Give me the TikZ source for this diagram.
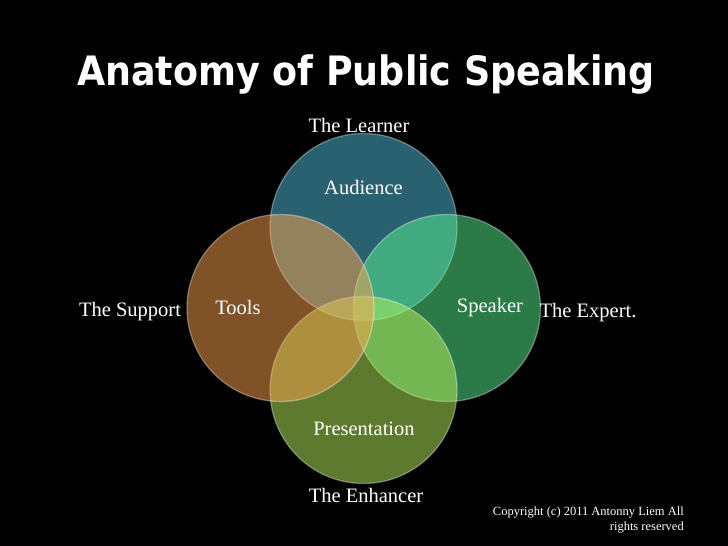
\documentclass[tikz,border=0pt]{standalone}
\usepackage{fontspec}
\setmainfont{Liberation Serif}
\newfontfamily\titlefont{DejaVu Sans Condensed}
\usetikzlibrary{calc}

\definecolor{audiencecol}{RGB}{84,194,224}
\definecolor{speakercol}{RGB}{88,244,144}
\definecolor{presentcol}{RGB}{188,244,92}
\definecolor{toolscol}{RGB}{255,164,80}

\tikzset{
  venn/.style={circle,minimum size=187pt,inner sep=0pt,fill opacity=0.5,
    draw=white,draw opacity=0.35,line width=1.3pt},
  lbl/.style={text=white,font=\fontsize{20.5}{24}\selectfont,inner sep=0pt},
}

\begin{document}
\begin{tikzpicture}[x=1pt,y=-1pt]
\fill[black] (0,0) rectangle (728,546);
\useasboundingbox (0,0) rectangle (728,546);
\node[anchor=base west,text=white,inner sep=0pt,font=\titlefont\bfseries\fontsize{40.5}{44}\selectfont] (title) at (77,85) {Anatomy of Public Speaking};
\node[venn,fill=audiencecol] (audience) at (363.5,227) {};
\node[venn,fill=speakercol] (speaker) at (447,308) {};
\node[venn,fill=presentcol] (present) at (363.5,390) {};
\node[venn,fill=toolscol] (tools) at (280.5,308) {};
\node[lbl] (audiencetxt) at (363.5,187) {Audience};
\node[lbl] (speakertxt) at (490,308) {Speaker};
\node[lbl] (presenttxt) at (364,429) {Presentation};
\node[lbl] (toolstxt) at (238,307) {Tools};
\node[lbl] (learner) at (359,125) {The Learner};
\node[lbl] (expert) at (588,313) {The Expert.};
\node[lbl] (enhancer) at (366,495) {The Enhancer};
\node[lbl] (support) at (130,312) {The Support};
\node[text=white,inner sep=0pt,align=right,anchor=north east,font=\fontsize{12.5}{14.5}\selectfont] (copy) at (684,507) {Copyright (c) 2011 Antonny Liem All\\rights reserved};
\end{tikzpicture}
\end{document}
